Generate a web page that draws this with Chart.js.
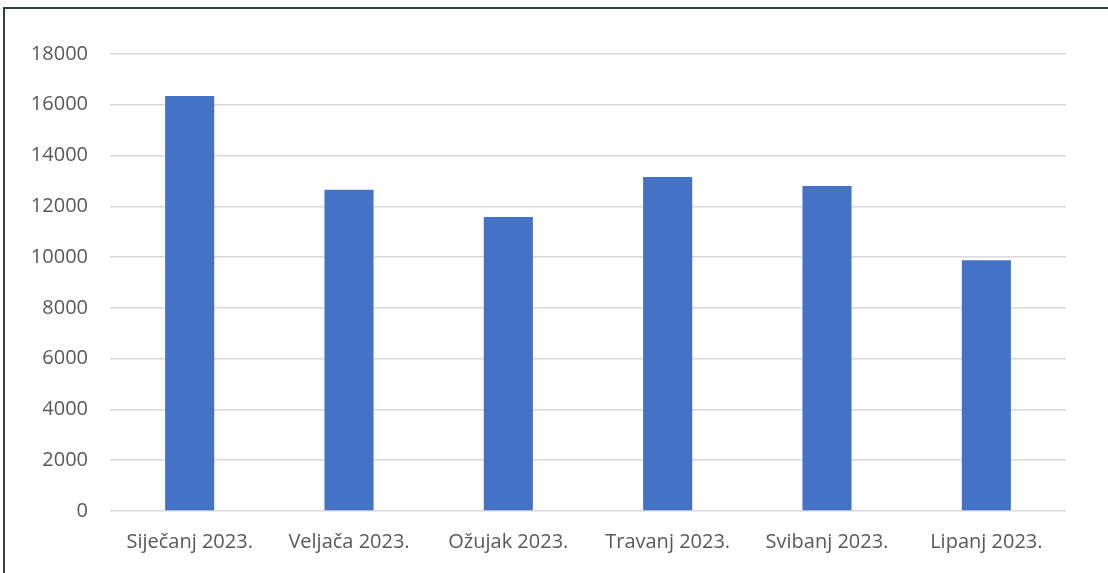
<!DOCTYPE html>
<html>
<head>
<meta charset="utf-8">
<script src="https://cdn.jsdelivr.net/npm/chart.js@4"></script>
<style>
  html, body { margin: 0; padding: 0; background: #ffffff; }
  #wrap { position: relative; width: 1108px; height: 573px; overflow: hidden; }
  #c { position: absolute; left: 0; top: 0; }
  #frame { position: absolute; left: 3px; top: 7px; width: 1200px; height: 700px;
           border-top: 2px solid #333f50; border-left: 2px solid #333f50; pointer-events: none; }
</style>
</head>
<body>
<div id="wrap">
  <canvas id="c" width="1108" height="573"></canvas>
  <div id="frame"></div>
</div>
<script>
const categories = ["Siječanj 2023.", "Veljača 2023.", "Ožujak 2023.", "Travanj 2023.", "Svibanj 2023.", "Lipanj 2023."];
const values = [16350, 12650, 11580, 13160, 12800, 9880];
const yMin = 0;
const yMax = 18000;
const yStep = 2000;

const textColor = "#595959";
const font = { family: "'Open Sans', sans-serif", size: 20 };

new Chart(document.getElementById("c"), {
  type: "bar",
  data: {
    labels: categories,
    datasets: [{
      data: values,
      backgroundColor: "#4472C4",
      borderWidth: 0,
      categoryPercentage: 1,
      barPercentage: 0.308
    }]
  },
  options: {
    responsive: false,
    animation: false,
    devicePixelRatio: 1,
    layout: { padding: { left: 0, top: 54, right: 42, bottom: 0 } },
    plugins: { legend: { display: false }, tooltip: { enabled: false }, title: { display: false } },
    scales: {
      x: {
        grid: { display: false, drawTicks: false },
        border: { display: false },
        ticks: { color: textColor, font: font, padding: 19, maxRotation: 0, autoSkip: false },
        afterFit: (s) => { s.height = 62; }
      },
      y: {
        min: yMin, max: yMax,
        grid: { color: "#d9d9d9", lineWidth: 1.5, drawTicks: false },
        border: { display: false },
        ticks: { stepSize: yStep, color: textColor, font: font, padding: 22,
                 callback: (v) => String(v) },
        afterFit: (s) => { s.width = 110; }
      }
    }
  }
});
</script>
</body>
</html>
